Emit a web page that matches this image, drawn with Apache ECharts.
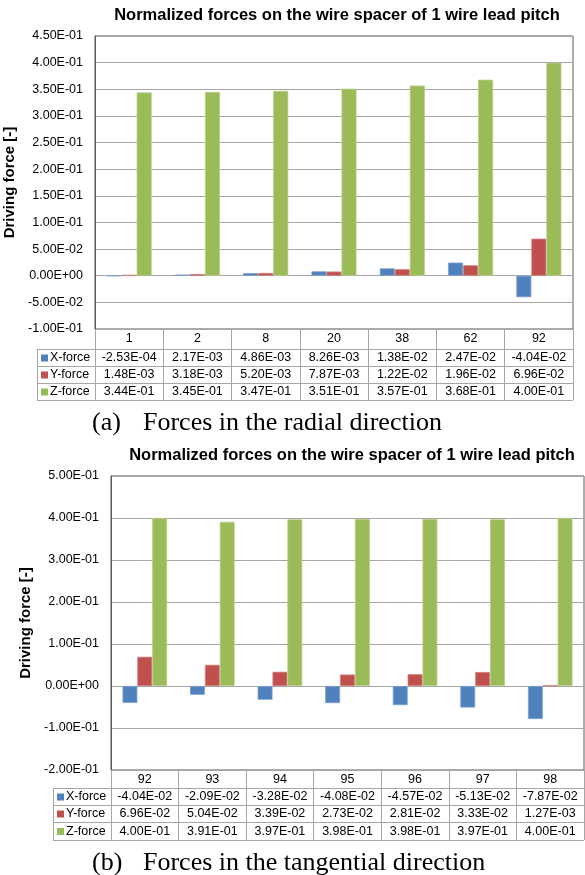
<!DOCTYPE html>
<html><head><meta charset="utf-8">
<script src="https://cdn.jsdelivr.net/npm/echarts@6/dist/echarts.min.js"></script>
<style>html,body{margin:0;padding:0;background:#fff}#c{width:585px;height:875px}</style>
</head><body><div id="c"></div>
<script>
const titleText = 'Normalized forces on the wire spacer of 1 wire lead pitch';
const yName = 'Driving force [-]';
const seriesNames = ['X-force', 'Y-force', 'Z-force'];
const colors = ['#4F81BD', '#C0504D', '#9BBB59'];
const edgeColors = ['#7D9FCF', '#D07C7A', '#B5CE86'];

const catsA = ['1', '2', '8', '20', '38', '62', '92'];
const xA = [-2.53e-4, 2.17e-3, 4.86e-3, 8.26e-3, 1.38e-2, 2.47e-2, -4.04e-2];
const yA = [1.48e-3, 3.18e-3, 5.20e-3, 7.87e-3, 1.22e-2, 1.96e-2, 6.96e-2];
const zA = [3.44e-1, 3.45e-1, 3.47e-1, 3.51e-1, 3.57e-1, 3.68e-1, 4.00e-1];
const axisA = { min: -0.1, max: 0.45, interval: 0.05 };
const captionLabelA = '(a)';
const captionA = 'Forces in the radial direction';

const catsB = ['92', '93', '94', '95', '96', '97', '98'];
const xB = [-4.04e-2, -2.09e-2, -3.28e-2, -4.08e-2, -4.57e-2, -5.13e-2, -7.87e-2];
const yB = [6.96e-2, 5.04e-2, 3.39e-2, 2.73e-2, 2.81e-2, 3.33e-2, 1.27e-3];
const zB = [4.00e-1, 3.91e-1, 3.97e-1, 3.98e-1, 3.98e-1, 3.97e-1, 4.00e-1];
const axisB = { min: -0.2, max: 0.5, interval: 0.1 };
const captionLabelB = '(b)';
const captionB = 'Forces in the tangential direction';

function sci(v) {
  if (Math.abs(v) < 1e-12) return '0.00E+00';
  const s = Number(v).toExponential(2);
  const parts = s.split('e');
  const e = parseInt(parts[1], 10);
  const sign = e < 0 ? '-' : '+';
  const n = Math.abs(e);
  return parts[0] + 'E' + sign + (n < 10 ? '0' : '') + n;
}

const FONT = 'Liberation Sans, Arial, sans-serif';
const SERIF = 'Liberation Serif, Times New Roman, serif';
const GRIDC = '#A6A6A6';
const TABC = '#A6A6A6';
const BORDC = '#5A5A5A';
const FS = 12.5;

const charts = [
  { cats: catsA, vals: [xA, yA, zA], axis: axisA, capL: captionLabelA, cap: captionA,
    left: 95, top: 36, width: 478, height: 293, rows: [329, 349, 366, 383, 400],
    legLeft: 37, sqX: 41, txtX: 50, nameGap: 66, titleX: 337, titleY: 15, capY: 423 },
  { cats: catsB, vals: [xB, yB, zB], axis: axisB, capL: captionLabelB, cap: captionB,
    left: 111, top: 476, width: 473, height: 294, rows: [770, 788, 805, 822, 840],
    legLeft: 53, sqX: 57, txtX: 66, nameGap: 68, titleX: 352, titleY: 455, capY: 863 }
];

const grid = [], xAxis = [], yAxis = [], series = [], graphic = [];

charts.forEach(function (c, gi) {
  grid.push({ left: c.left, top: c.top, width: c.width, height: c.height,
    show: true, borderColor: BORDC, borderWidth: 1, backgroundColor: '#fff',
    containLabel: false, outerBoundsMode: 'none' });
  const tableH = c.rows[4] - c.rows[0];
  xAxis.push({ type: 'category', gridIndex: gi, data: c.cats, position: 'bottom',
    axisLine: { onZero: false, show: true, lineStyle: { color: TABC } },
    axisTick: { show: true, length: tableH, alignWithLabel: false, lineStyle: { color: TABC } },
    axisLabel: { show: true, margin: 3, fontFamily: FONT, fontSize: FS, color: '#000' },
    splitLine: { show: false } });
  yAxis.push({ type: 'value', gridIndex: gi, min: c.axis.min, max: c.axis.max, interval: c.axis.interval,
    name: yName, nameLocation: 'middle', nameGap: c.nameGap,
    nameTextStyle: { fontFamily: FONT, fontSize: 15, fontWeight: 'bold', color: '#000' },
    axisLine: { show: true, lineStyle: { color: BORDC } },
    axisTick: { show: false },
    axisLabel: { margin: 12, fontFamily: FONT, fontSize: FS, color: '#000', formatter: sci },
    splitLine: { show: true, lineStyle: { color: GRIDC, width: 1 } } });
  c.vals.forEach(function (arr, si) {
    series.push({ type: 'bar', name: seriesNames[si], xAxisIndex: gi, yAxisIndex: gi,
      data: arr, barGap: '0%', barCategoryGap: '34%',
      itemStyle: { color: colors[si], borderColor: edgeColors[si], borderWidth: 0.8 }, animation: false });
  });

  graphic.push({ type: 'text', x: c.titleX, y: c.titleY,
    style: { text: titleText, textAlign: 'center', textVerticalAlign: 'middle',
      font: 'bold 16.5px ' + FONT, fill: '#000' } });
  graphic.push({ type: 'text', x: 92, y: c.capY,
    style: { text: c.capL, textAlign: 'left', textVerticalAlign: 'middle', font: '26px ' + SERIF, fill: '#000' } });
  graphic.push({ type: 'text', x: 143, y: c.capY,
    style: { text: c.cap, textAlign: 'left', textVerticalAlign: 'middle', font: '26px ' + SERIF, fill: '#000' } });

  const right = c.left + c.width;
  for (let r = 1; r < 5; r++) {
    graphic.push({ type: 'line', shape: { x1: c.legLeft, y1: c.rows[r] + 0.5, x2: right, y2: c.rows[r] + 0.5 },
      style: { stroke: TABC, lineWidth: 1 } });
  }
  graphic.push({ type: 'line', shape: { x1: c.legLeft + 0.5, y1: c.rows[1], x2: c.legLeft + 0.5, y2: c.rows[4] },
    style: { stroke: TABC, lineWidth: 1 } });
  const cw = c.width / c.cats.length;
  for (let s = 0; s < 3; s++) {
    const yc = (c.rows[s + 1] + c.rows[s + 2]) / 2 + 0.5;
    graphic.push({ type: 'rect', shape: { x: c.sqX, y: yc - 3.5, width: 7, height: 7 },
      style: { fill: colors[s] } });
    graphic.push({ type: 'text', x: c.txtX, y: yc,
      style: { text: seriesNames[s], textAlign: 'left', textVerticalAlign: 'middle', font: FS + 'px ' + FONT, fill: '#000' } });
    c.vals[s].forEach(function (v, i) {
      graphic.push({ type: 'text', x: c.left + (i + 0.5) * cw, y: yc,
        style: { text: sci(v), textAlign: 'center', textVerticalAlign: 'middle', font: FS + 'px ' + FONT, fill: '#000' } });
    });
  }
});

const chart = echarts.init(document.getElementById('c'), null, { renderer: 'canvas' });
chart.setOption({ animation: false, backgroundColor: '#fff', grid: grid, xAxis: xAxis, yAxis: yAxis,
  series: series, graphic: graphic });
</script>
</body></html>
